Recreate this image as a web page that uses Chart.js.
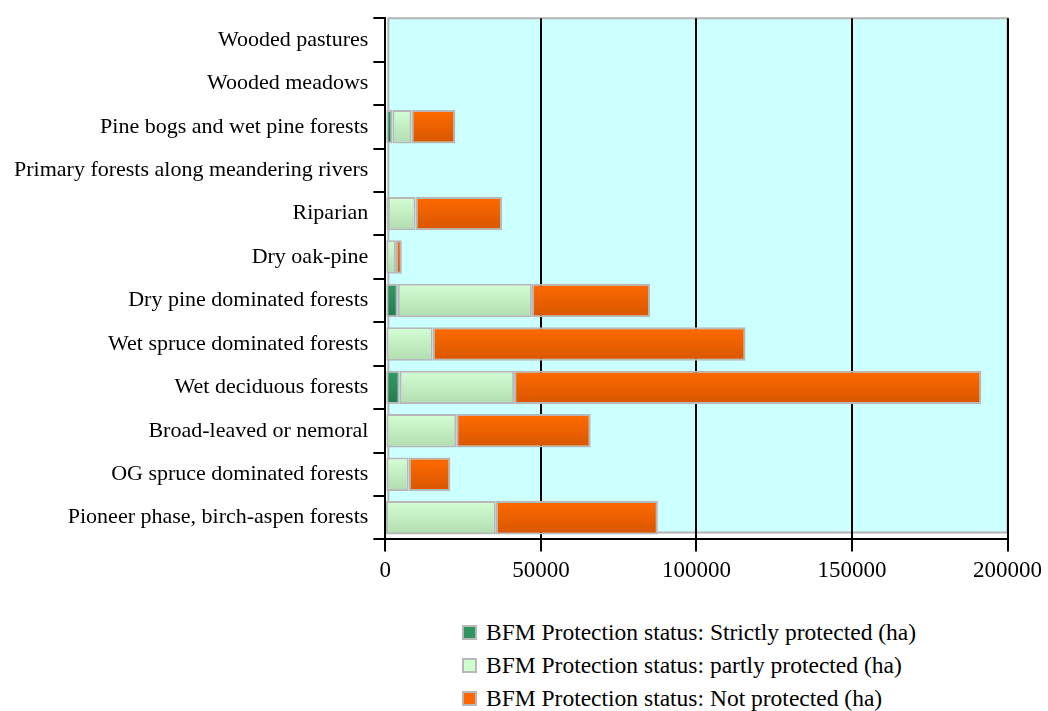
<!DOCTYPE html>
<html><head><meta charset="utf-8">
<script src="https://cdn.jsdelivr.net/npm/chart.js@4/dist/chart.umd.min.js"></script>
<style>
html,body{margin:0;padding:0;background:#fff;}
#wrap{position:relative;width:1048px;height:711px;overflow:hidden;}
#cw{position:absolute;left:0;top:0;width:1048px;height:600px;}
#legend{position:absolute;left:462px;top:616px;font-family:"Liberation Serif",serif;font-size:23.5px;color:#000;}
.li{display:flex;align-items:center;height:33px;white-space:nowrap;}
.sw{width:11px;height:11px;border:2px solid #b8b8b8;margin-right:9px;}
</style></head><body>
<div id="wrap"><div id="cw"><canvas id="c"></canvas></div><div id="legend"></div></div>
<script>
const categories = [
  "Wooded pastures",
  "Wooded meadows",
  "Pine bogs and wet pine forests",
  "Primary forests along meandering rivers",
  "Riparian",
  "Dry oak-pine",
  "Dry pine dominated forests",
  "Wet spruce dominated forests",
  "Wet deciduous forests",
  "Broad-leaved or nemoral",
  "OG spruce dominated forests",
  "Pioneer phase, birch-aspen forests"
];
const strictlyProtected = [0, 0, 2300, 0, 800, 0, 4000, 0, 4600, 0, 0, 200];
const partlyProtected   = [0, 0, 6100, 0, 8900, 3400, 43100, 15200, 36800, 22800, 7500, 35300];
const notProtected      = [0, 0, 14100, 0, 27800, 1900, 38000, 100600, 150200, 43200, 13400, 52100];
const seriesLabels = [
  "BFM Protection status: Strictly protected (ha)",
  "BFM Protection status: partly protected (ha)",
  "BFM Protection status: Not protected (ha)"
];
const xTicks = [0, 50000, 100000, 150000, 200000];

const FONT = "'Liberation Serif', serif";

function grad(top, bottom) {
  return (ctx) => {
    const c = ctx.chart;
    const ys = c.scales && c.scales.y;
    if (!ys || ctx.type !== 'data' || !isFinite(ys.height)) return top;
    const yc = ys.getPixelForValue(ctx.dataIndex);
    const h = ys.height / categories.length * 0.77 / 2;
    if (!isFinite(yc)) return top;
    const g = c.ctx.createLinearGradient(0, yc - h, 0, yc + h);
    g.addColorStop(0, top);
    g.addColorStop(1, bottom);
    return g;
  };
}
const swatchColors = ["#2f9561", "#ccffcc", "#ff6600"];

const bgPlugin = {
  id: 'plotBg',
  beforeDraw(chart) {
    const {ctx, chartArea: a} = chart;
    ctx.save();
    ctx.fillStyle = '#ccffff';
    ctx.fillRect(a.left + 3, a.top, a.right - a.left - 3, a.bottom - a.top - 7);
    ctx.strokeStyle = '#b4b4b4';
    ctx.lineWidth = 2;
    ctx.beginPath();
    ctx.moveTo(a.left + 3, a.bottom - 7);
    ctx.lineTo(a.left + 3, a.top);
    ctx.lineTo(a.right, a.top);
    ctx.lineTo(a.right, a.bottom - 7);
    ctx.lineTo(a.left + 3, a.bottom - 7);
    ctx.stroke();
    ctx.restore();
  }
};

const common = {borderColor: '#b8b8b8', borderWidth: 2, borderSkipped: false, barPercentage: 0.77, categoryPercentage: 1.0};
const chart = new Chart(document.getElementById('c'), {
  type: 'bar',
  data: {
    labels: categories,
    datasets: [
      Object.assign({label: seriesLabels[0], data: strictlyProtected, backgroundColor: grad('#339966', '#267a50')}, common),
      Object.assign({label: seriesLabels[1], data: partlyProtected, backgroundColor: grad('#d4ffd4', '#b0dcb0')}, common),
      Object.assign({label: seriesLabels[2], data: notProtected, backgroundColor: grad('#ff6a00', '#d85600')}, common)
    ]
  },
  options: {
    indexAxis: 'y',
    responsive: true,
    maintainAspectRatio: false,
    animation: false,
    layout: {padding: {top: 18, right: 0, bottom: 9, left: 9}},
    plugins: {legend: {display: false}, tooltip: {enabled: false}},
    scales: {
      x: {
        stacked: true, min: 0, max: 200000,
        afterBuildTicks: (s) => { s.ticks = xTicks.map(v => ({value: v})); },
        ticks: {color: '#000', font: {family: FONT, size: 23}, padding: 6, callback: (v) => String(v), maxRotation: 0},
        grid: {color: '#000', lineWidth: 2, tickLength: 12, drawTicks: true},
        border: {color: '#000', width: 2}
      },
      y: {
        stacked: true,
        ticks: {color: '#000', font: {family: FONT, size: 22}, padding: 5},
        grid: {drawOnChartArea: false, drawTicks: true, tickLength: 12, color: '#000', lineWidth: 2, offset: true},
        border: {color: '#000', width: 2}
      }
    }
  },
  plugins: [bgPlugin]
});

const lg = document.getElementById('legend');
chart.data.datasets.forEach((d, i) => {
  const row = document.createElement('div'); row.className = 'li';
  const sw = document.createElement('span'); sw.className = 'sw'; sw.style.background = swatchColors[i];
  const tx = document.createElement('span'); tx.textContent = d.label;
  row.appendChild(sw); row.appendChild(tx); lg.appendChild(row);
});
</script>
</body></html>
